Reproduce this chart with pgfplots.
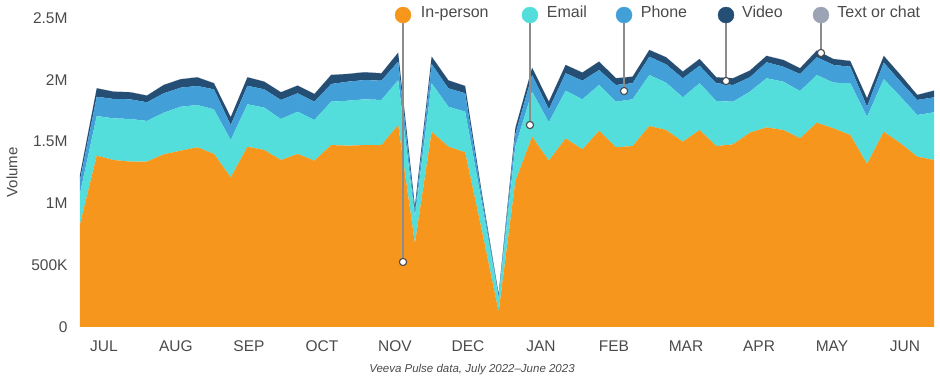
\documentclass[border=0pt]{standalone}
\usepackage{fontspec}
\setmainfont{Liberation Sans}
\usepackage{pgfplots}
\usepackage{pgfplotstable}
\pgfplotsset{compat=1.18}
\definecolor{inperson}{HTML}{F7961D}
\definecolor{email}{HTML}{53DEDC}
\definecolor{phone}{HTML}{429FD8}
\definecolor{video}{HTML}{244E73}
\definecolor{textchat}{HTML}{9CA3B4}
\definecolor{txt}{HTML}{4A4A4A}
\definecolor{lead}{HTML}{8C8C8C}

% weekly volumes, millions
\pgfplotstableread{
i O C B N T
0 0.830 0.250 0.110 0.040 0.002
1 1.386 0.321 0.156 0.068 0.002
2 1.351 0.337 0.157 0.059 0.002
3 1.338 0.345 0.159 0.057 0.002
4 1.338 0.329 0.151 0.054 0.002
5 1.397 0.337 0.157 0.067 0.002
6 1.426 0.356 0.154 0.068 0.002
7 1.454 0.342 0.154 0.070 0.002
8 1.400 0.361 0.162 0.049 0.002
9 1.211 0.302 0.121 0.063 0.002
10 1.459 0.343 0.150 0.068 0.002
11 1.432 0.343 0.148 0.062 0.002
12 1.351 0.332 0.154 0.062 0.002
13 1.400 0.342 0.149 0.062 0.002
14 1.346 0.329 0.148 0.062 0.002
15 1.472 0.351 0.143 0.073 0.002
16 1.467 0.364 0.154 0.062 0.002
17 1.472 0.370 0.156 0.063 0.002
18 1.472 0.365 0.156 0.059 0.002
19 1.634 0.364 0.149 0.072 0.002
20 0.677 0.213 0.040 0.043 0.001
21 1.580 0.392 0.156 0.059 0.002
22 1.459 0.323 0.149 0.064 0.002
23 1.413 0.329 0.149 0.059 0.002
24 0.780 0.220 0.050 0.030 0.001
25 0.124 0.111 0.015 0.015 0.001
26 1.180 0.280 0.100 0.050 0.002
27 1.540 0.364 0.135 0.058 0.002
28 1.346 0.310 0.105 0.062 0.002
29 1.526 0.386 0.141 0.067 0.002
30 1.437 0.405 0.151 0.065 0.002
31 1.588 0.370 0.121 0.068 0.002
32 1.454 0.369 0.135 0.054 0.002
33 1.464 0.378 0.130 0.053 0.002
34 1.626 0.413 0.148 0.054 0.002
35 1.594 0.383 0.148 0.057 0.002
36 1.499 0.359 0.154 0.054 0.002
37 1.594 0.378 0.142 0.054 0.002
38 1.464 0.364 0.144 0.048 0.002
39 1.478 0.345 0.135 0.054 0.002
40 1.572 0.332 0.116 0.054 0.002
41 1.615 0.397 0.130 0.051 0.002
42 1.594 0.391 0.121 0.054 0.002
43 1.526 0.383 0.138 0.046 0.002
44 1.653 0.386 0.143 0.054 0.002
45 1.607 0.370 0.143 0.048 0.002
46 1.553 0.419 0.134 0.046 0.002
47 1.319 0.382 0.081 0.068 0.002
48 1.580 0.426 0.133 0.054 0.002
49 1.486 0.377 0.122 0.054 0.002
50 1.378 0.337 0.122 0.040 0.002
51 1.351 0.386 0.121 0.054 0.002
}\data

\begin{document}
\begin{tikzpicture}
\pgfplotsset{
  base/.style={
    scale only axis, width=854pt, height=309pt,
    xmin=0, xmax=51, ymin=0, ymax=2.5,
  }
}
\begin{axis}[base,
  stack plots=y,
  axis line style={draw=none},
  major tick length=0pt,
  tick style={draw=none},
  ytick={0,0.5,1,1.5,2,2.5},
  yticklabels={0,500K,1M,1.5M,2M,2.5M},
  xtick={1.43,5.73,10.09,14.45,18.81,23.17,27.53,31.89,36.19,40.55,44.91,49.27},
  xticklabels={JUL,AUG,SEP,OCT,NOV,DEC,JAN,FEB,MAR,APR,MAY,JUN},
  ticklabel style={font=\fontsize{15.5}{18}\selectfont, text=txt},
  yticklabel style={xshift=-9pt},
  xticklabel style={yshift=-10pt},
  ylabel={Volume},
  ylabel style={at={(axis description cs:-0.0796,0.5)}, anchor=center, font=\fontsize{15}{18}\selectfont, text=txt},
]
\addplot[fill=inperson, draw=none] table[x=i, y=O] {\data} \closedcycle;
\addplot[fill=email, draw=none] table[x=i, y=C] {\data} \closedcycle;
\addplot[fill=phone, draw=none] table[x=i, y=B] {\data} \closedcycle;
\addplot[fill=video, draw=none] table[x=i, y=N] {\data} \closedcycle;
\addplot[fill=textchat, draw=none] table[x=i, y=T] {\data} \closedcycle;
\end{axis}
\begin{axis}[base, hide axis, clip=false]
\addplot[lead, line width=1.5pt] coordinates {(19.29,0.526) (19.29,2.524)};
\addplot[lead, line width=1.5pt] coordinates {(26.87,1.634) (26.87,2.524)};
\addplot[lead, line width=1.5pt] coordinates {(32.49,1.909) (32.49,2.524)};
\addplot[lead, line width=1.5pt] coordinates {(38.58,1.990) (38.58,2.524)};
\addplot[lead, line width=1.5pt] coordinates {(44.25,2.217) (44.25,2.524)};
\addplot[only marks, mark=*, mark size=3.6pt, mark options={fill=white, draw=txt, line width=1.1pt}] coordinates {(19.29,0.526) (26.87,1.634) (32.49,1.909) (38.58,1.990) (44.25,2.217)};
\addplot[only marks, mark=*, mark size=8pt, color=inperson] coordinates {(19.29,2.524)};
\addplot[only marks, mark=*, mark size=8pt, color=email] coordinates {(26.87,2.524)};
\addplot[only marks, mark=*, mark size=8pt, color=phone] coordinates {(32.49,2.524)};
\addplot[only marks, mark=*, mark size=8pt, color=video] coordinates {(38.58,2.524)};
\addplot[only marks, mark=*, mark size=8pt, color=textchat] coordinates {(44.25,2.524)};
\begin{scope}[every node/.style={anchor=mid west, inner sep=0pt, font=\fontsize{16}{19}\selectfont, text=txt}]
\node at (axis cs:20.35,2.524) {In-person};
\node at (axis cs:27.87,2.524) {Email};
\node at (axis cs:33.48,2.524) {Phone};
\node at (axis cs:39.53,2.524) {Video};
\node at (axis cs:45.22,2.524) {Text or chat};
\end{scope}
\node[font=\fontsize{11.5}{14}\selectfont\itshape, text=txt, inner sep=0pt] at (axis description cs:0.459,-0.139) {Veeva Pulse data, July 2022–June 2023};
\end{axis}
\pgfresetboundingbox
\path[use as bounding box] (-80pt,-60pt) rectangle (860pt,327pt);
\end{tikzpicture}
\end{document}
